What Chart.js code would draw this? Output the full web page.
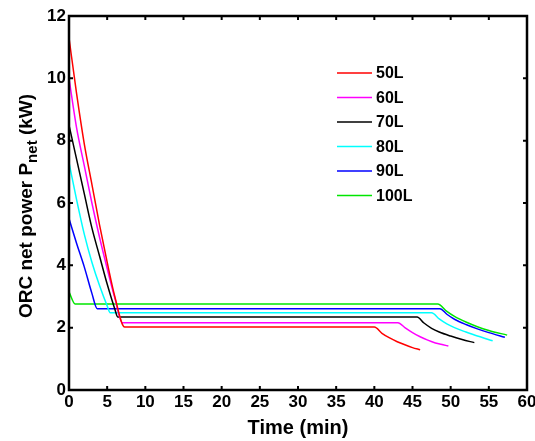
<!DOCTYPE html>
<html>
<head>
<meta charset="utf-8">
<script src="https://cdn.jsdelivr.net/npm/chart.js@4/dist/chart.umd.min.js"></script>
<style>
  html, body { margin: 0; padding: 0; background: #fff; }
  #wrap { width: 535px; height: 441px; }
</style>
</head>
<body>
<div id="wrap"><canvas id="orc_chart" width="535" height="441"></canvas></div>
<script>
// tank volumes
const volumes = ['50L', '60L', '70L', '80L', '90L', '100L'];
const lineColors = ['#ff0000', '#ff00ff', '#000000', '#00ffff', '#0000ff', '#00e600'];

// time (min) and net power (kW) for each tank
const t50 = [0, 1, 2, 3, 4, 5, 6, 7.3, 40, 41, 42, 43, 44, 45, 46];
const p50 = [11.3, 9.5, 7.9, 6.6, 5.3, 4.1, 3.0, 2.02, 2.02, 1.82, 1.67, 1.55, 1.45, 1.36, 1.29];

const t60 = [0, 1, 2, 3, 4, 5, 6, 7.0, 43.1, 44, 45, 46, 47, 48, 49, 49.7];
const p60 = [10.0, 8.4, 7.2, 6.0, 4.9, 3.9, 2.95, 2.16, 2.16, 2.0, 1.84, 1.71, 1.6, 1.51, 1.45, 1.41];

const t70 = [0, 1, 2, 3, 4, 5, 6, 6.4, 45.6, 46.5, 47.5, 48.5, 50, 51.5, 53.1];
const p70 = [8.5, 7.4, 6.3, 5.2, 4.3, 3.4, 2.6, 2.34, 2.34, 2.15, 1.98, 1.86, 1.73, 1.62, 1.52];

const t80 = [0, 1, 2, 3, 4, 5, 5.4, 47.5, 48.5, 49.5, 50.5, 52, 53.5, 55.5];
const p80 = [7.3, 6.1, 5.0, 4.1, 3.35, 2.7, 2.48, 2.48, 2.28, 2.12, 2.0, 1.86, 1.73, 1.58];

const t90 = [0, 1, 2, 3, 3.7, 48.6, 49.5, 50.5, 52, 53.5, 55, 57.1];
const p90 = [5.5, 4.7, 3.95, 3.1, 2.61, 2.61, 2.43, 2.27, 2.1, 1.96, 1.84, 1.69];

const t100 = [0, 0.8, 48.3, 49.5, 50.5, 52, 53.5, 55, 57.4];
const p100 = [3.15, 2.76, 2.76, 2.52, 2.36, 2.18, 2.03, 1.91, 1.76];

const times = [t50, t60, t70, t80, t90, t100];
const powers = [p50, p60, p70, p80, p90, p100];

const xTicks = [0, 5, 10, 15, 20, 25, 30, 35, 40, 45, 50, 55, 60];
const yTicks = [0, 2, 4, 6, 8, 10, 12];

const fam = '"Liberation Sans", Arial, sans-serif';

// frame, inward ticks, legend and y title with subscript
const framePlugin = {
  id: 'frame',
  afterDraw(chart) {
    const ctx = chart.ctx;
    const a = chart.chartArea;
    const xs = chart.scales.x, ys = chart.scales.y;
    ctx.save();
    ctx.strokeStyle = '#000';
    ctx.lineWidth = 2.5;
    ctx.strokeRect(a.left, a.top, a.right - a.left, a.bottom - a.top);

    ctx.lineWidth = 2;
    const tl = 4;
    xTicks.forEach(v => {
      const px = xs.getPixelForValue(v);
      ctx.beginPath();
      ctx.moveTo(px, a.bottom); ctx.lineTo(px, a.bottom - tl);
      ctx.moveTo(px, a.top); ctx.lineTo(px, a.top + tl);
      ctx.stroke();
    });
    yTicks.forEach(v => {
      const py = ys.getPixelForValue(v);
      ctx.beginPath();
      ctx.moveTo(a.left, py); ctx.lineTo(a.left + tl, py);
      ctx.moveTo(a.right, py); ctx.lineTo(a.right - tl, py);
      ctx.stroke();
    });

    // legend
    ctx.font = 'bold 16px ' + fam;
    ctx.textBaseline = 'middle';
    ctx.textAlign = 'left';
    chart.data.datasets.forEach((ds, i) => {
      const y = 73 + i * 24.5;
      ctx.strokeStyle = ds.borderColor;
      ctx.lineWidth = 1.5;
      ctx.beginPath();
      ctx.moveTo(337, y); ctx.lineTo(372, y);
      ctx.stroke();
      ctx.fillStyle = '#000';
      ctx.fillText(ds.label, 376, y + 1);
    });

    // y axis title
    ctx.translate(26, 206);
    ctx.rotate(-Math.PI / 2);
    ctx.fillStyle = '#000';
    const main = 'ORC net power P';
    const sub = 'net';
    const tail = ' (kW)';
    const f1 = 'bold 19px ' + fam;
    const f2 = 'bold 15px ' + fam;
    ctx.font = f1;
    const w1 = ctx.measureText(main).width;
    const w3 = ctx.measureText(tail).width;
    ctx.font = f2;
    const w2 = ctx.measureText(sub).width;
    let x = -(w1 + w2 + w3) / 2;
    ctx.textAlign = 'left';
    ctx.textBaseline = 'alphabetic';
    ctx.font = f1;
    ctx.fillText(main, x, 6);
    x += w1;
    ctx.font = f2;
    ctx.fillText(sub, x, 11);
    x += w2;
    ctx.font = f1;
    ctx.fillText(tail, x, 6);
    ctx.restore();
  }
};

const orc_chart = new Chart(document.getElementById('orc_chart').getContext('2d'), {
  type: 'line',
  data: {
    datasets: volumes.map((name, i) => ({
      label: name,
      data: times[i].map((t, j) => ({ x: t, y: powers[i][j] })),
      borderColor: lineColors[i],
      backgroundColor: lineColors[i],
      borderWidth: 1.5,
      pointRadius: 0,
      cubicInterpolationMode: 'monotone',
      fill: false
    }))
  },
  options: {
    responsive: false,
    animation: false,
    layout: { padding: { left: 0, right: 8, top: 16, bottom: 0 } },
    plugins: {
      legend: { display: false },
      tooltip: { enabled: false }
    },
    scales: {
      x: {
        type: 'linear',
        min: 0,
        max: 60,
        afterFit: s => {
          s.height = 51;
          s.paddingLeft = 0;
          s.paddingRight = 0; // let the "60" label overhang the frame
        },
        afterBuildTicks: s => { s.ticks = xTicks.map(v => ({ value: v })); },
        grid: { display: false, drawTicks: false },
        border: { display: false },
        ticks: {
          color: '#000',
          padding: 2,
          maxRotation: 0,
          font: { family: fam, size: 17, weight: 'bold' }
        },
        title: {
          display: true,
          text: 'Time (min)',
          color: '#000',
          padding: { top: 0, bottom: 1 },
          font: { family: fam, size: 20, weight: 'bold' }
        }
      },
      y: {
        min: 0,
        max: 12,
        afterFit: s => {
          s.width = 69;
          s.paddingTop = 0;
          s.paddingBottom = 0;
        },
        afterBuildTicks: s => { s.ticks = yTicks.map(v => ({ value: v })); },
        grid: { display: false, drawTicks: false },
        border: { display: false },
        ticks: {
          color: '#000',
          padding: 3,
          font: { family: fam, size: 17, weight: 'bold' }
        }
      }
    }
  },
  plugins: [framePlugin]
});
</script>
</body>
</html>
